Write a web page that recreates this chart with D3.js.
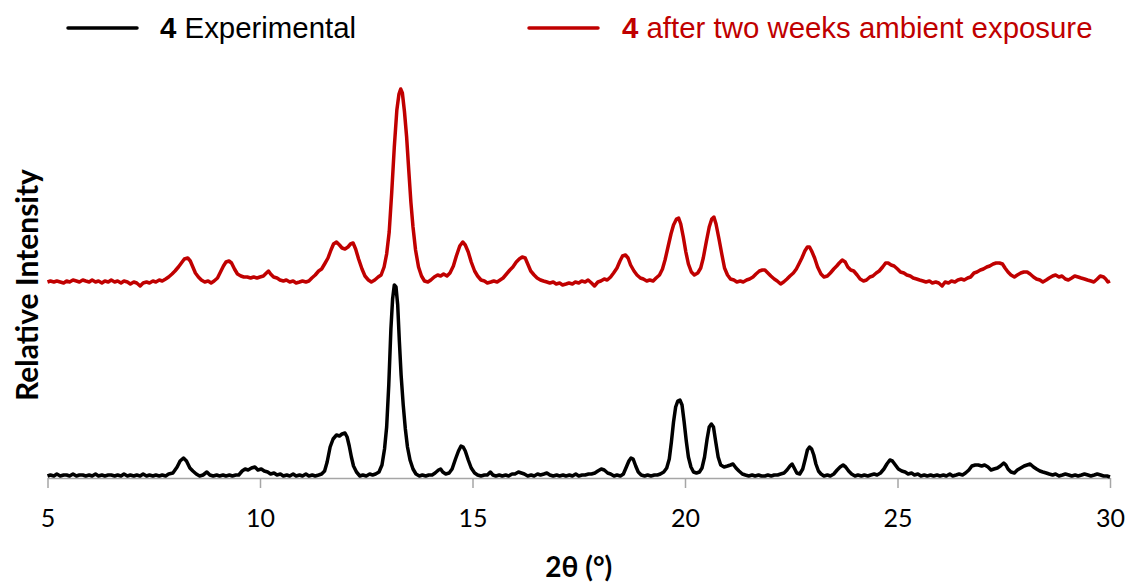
<!DOCTYPE html>
<html>
<head>
<meta charset="utf-8">
<script src="https://cdn.jsdelivr.net/npm/d3@7"></script>
<style>
  html, body { margin: 0; padding: 0; background: #fff; }
  svg { display: block; }
</style>
</head>
<body>
<svg id="chart" width="1127" height="583"></svg>
<script>
// ---- Data ----
const xTicks = [5, 10, 15, 20, 25, 30];
const seriesNames = ["Experimental", "after two weeks ambient exposure"];
const seriesLabelBold = ["4", "4"];
const agedOffset = 195; // vertical stacking offset of the aged pattern

// [2θ, relative intensity] - compound 4, experimental
const expPattern = [[5.00,1],[5.07,2],[5.15,1],[5.22,3],[5.3,1],[5.38,2],[5.45,2],[5.52,1],[5.6,3],[5.68,1],[5.75,2],[5.83,2],[5.9,1],[5.98,2],[6.05,1],[6.13,3],[6.2,1],[6.28,2],[6.35,1],[6.43,2],[6.5,2],[6.58,1],[6.65,2],[6.73,1],[6.8,3],[6.88,1],[6.95,2],[7.03,1],[7.1,2],[7.18,1],[7.25,3],[7.33,1],[7.4,2],[7.48,1],[7.55,2],[7.63,1],[7.7,2],[7.78,1],[7.85,3],[7.95,4],[8.05,10],[8.12,16],[8.2,19],[8.27,16],[8.35,9],[8.42,6],[8.5,3],[8.58,1],[8.66,2],[8.75,5],[8.82,2],[8.9,1],[8.98,2],[9.05,1],[9.13,2],[9.2,1],[9.28,2],[9.35,1],[9.43,2],[9.5,2],[9.58,6],[9.65,8],[9.72,7],[9.8,9],[9.88,10],[9.95,7],[10.03,8],[10.1,6],[10.18,5],[10.25,3],[10.33,4],[10.4,2],[10.48,3],[10.55,1],[10.63,2],[10.7,1],[10.78,3],[10.85,1],[10.93,2],[11.0,1],[11.08,3],[11.15,1],[11.23,2],[11.3,1],[11.38,2],[11.45,3],[11.52,6],[11.58,15],[11.65,30],[11.72,38],[11.8,42],[11.87,41],[11.93,43],[12.0,44],[12.05,40],[12.1,31],[12.15,20],[12.2,11],[12.27,5],[12.35,1],[12.42,2],[12.5,1],[12.58,3],[12.65,2],[12.72,3],[12.8,5],[12.87,12],[12.93,28],[12.98,50],[13.03,92],[13.08,148],[13.12,178],[13.16,192],[13.2,190],[13.24,172],[13.28,135],[13.32,102],[13.37,72],[13.42,48],[13.47,30],[13.53,17],[13.6,8],[13.67,3],[13.75,1],[13.82,2],[13.9,1],[13.97,2],[14.05,2],[14.12,4],[14.2,7],[14.25,8],[14.3,5],[14.37,3],[14.45,4],[14.52,8],[14.6,18],[14.67,26],[14.73,31],[14.78,30],[14.83,26],[14.9,17],[14.97,9],[15.05,4],[15.12,2],[15.2,1],[15.28,2],[15.35,2],[15.42,5],[15.48,2],[15.55,1],[15.63,2],[15.7,1],[15.78,2],[15.85,1],[15.93,3],[16.0,3],[16.08,5],[16.15,4],[16.22,3],[16.3,1],[16.38,2],[16.45,1],[16.53,3],[16.6,2],[16.68,3],[16.75,4],[16.82,2],[16.9,1],[16.98,2],[17.05,1],[17.13,2],[17.2,1],[17.28,2],[17.35,1],[17.43,3],[17.5,1],[17.58,2],[17.65,2],[17.73,3],[17.8,3],[17.88,4],[17.95,6],[18.03,8],[18.1,7],[18.18,4],[18.25,3],[18.33,1],[18.4,2],[18.48,1],[18.55,3],[18.62,10],[18.68,16],[18.73,19],[18.78,18],[18.84,11],[18.9,5],[18.97,2],[19.05,1],[19.12,2],[19.2,1],[19.28,2],[19.35,2],[19.42,3],[19.5,5],[19.57,9],[19.63,18],[19.68,35],[19.73,55],[19.78,70],[19.83,76],[19.88,77],[19.93,72],[19.98,55],[20.03,36],[20.08,20],[20.14,10],[20.2,5],[20.27,4],[20.34,5],[20.4,9],[20.46,20],[20.52,38],[20.57,50],[20.62,53],[20.67,50],[20.72,36],[20.78,20],[20.84,12],[20.92,10],[21.0,11],[21.07,12],[21.13,13],[21.2,9],[21.27,6],[21.35,3],[21.42,2],[21.5,1],[21.58,2],[21.65,1],[21.73,2],[21.8,1],[21.88,1],[21.95,2],[22.03,1],[22.1,2],[22.18,2],[22.25,3],[22.33,4],[22.4,7],[22.47,11],[22.52,13],[22.57,9],[22.63,4],[22.7,3],[22.77,8],[22.83,18],[22.88,27],[22.93,30],[22.98,28],[23.03,22],[23.08,13],[23.14,6],[23.2,3],[23.27,1],[23.35,2],[23.42,1],[23.5,3],[23.58,7],[23.65,10],[23.72,12],[23.78,10],[23.85,6],[23.92,3],[24.0,1],[24.07,2],[24.15,1],[24.22,2],[24.3,1],[24.37,2],[24.45,3],[24.52,2],[24.6,4],[24.68,8],[24.75,13],[24.82,17],[24.88,16],[24.95,12],[25.02,8],[25.1,6],[25.18,5],[25.25,3],[25.33,4],[25.4,2],[25.48,3],[25.55,1],[25.63,2],[25.7,1],[25.78,2],[25.85,1],[25.93,2],[26.0,1],[26.08,2],[26.15,1],[26.23,3],[26.3,1],[26.38,2],[26.45,3],[26.53,2],[26.6,4],[26.68,7],[26.75,11],[26.83,12],[26.9,12],[26.98,11],[27.05,12],[27.13,10],[27.2,7],[27.27,8],[27.35,9],[27.42,11],[27.5,14],[27.55,12],[27.6,8],[27.67,5],[27.75,4],[27.82,7],[27.9,9],[27.98,11],[28.05,12],[28.12,13],[28.2,10],[28.27,8],[28.35,6],[28.42,5],[28.5,4],[28.57,3],[28.65,2],[28.72,3],[28.8,1],[28.88,2],[28.95,3],[29.03,2],[29.1,1],[29.18,2],[29.25,1],[29.33,2],[29.4,3],[29.48,2],[29.55,1],[29.63,2],[29.7,3],[29.78,2],[29.85,1],[29.93,1],[30.0,0]];

// [2θ, relative intensity] - compound 4 after two weeks ambient exposure
const agedPattern = [[5.0,0],[5.07,1],[5.15,0],[5.22,1],[5.3,0],[5.38,-1],[5.45,1],[5.52,0],[5.6,2],[5.68,1],[5.75,0],[5.83,2],[5.9,1],[5.98,0],[6.05,2],[6.13,0],[6.2,1],[6.28,-1],[6.35,1],[6.43,0],[6.5,2],[6.58,0],[6.65,1],[6.73,-1],[6.8,1],[6.88,0],[6.95,-2],[7.03,0],[7.1,-1],[7.18,-4],[7.25,-1],[7.33,0],[7.4,-1],[7.48,1],[7.55,0],[7.63,2],[7.7,1],[7.78,3],[7.85,5],[7.93,8],[8.0,11],[8.08,15],[8.15,19],[8.22,23],[8.3,24],[8.36,21],[8.42,15],[8.48,9],[8.55,5],[8.62,2],[8.7,0],[8.78,1],[8.85,-1],[8.92,1],[9.0,4],[9.07,10],[9.14,16],[9.2,20],[9.27,21],[9.33,19],[9.4,13],[9.47,8],[9.55,6],[9.62,5],[9.7,5],[9.78,4],[9.85,5],[9.93,4],[10.0,5],[10.08,6],[10.15,9],[10.2,11],[10.25,8],[10.32,5],[10.4,4],[10.47,2],[10.55,1],[10.62,2],[10.7,0],[10.78,1],[10.85,-1],[10.93,0],[11.0,1],[11.08,0],[11.15,1],[11.22,4],[11.3,7],[11.38,11],[11.45,13],[11.52,18],[11.6,24],[11.67,32],[11.73,38],[11.8,40],[11.87,37],[11.93,34],[12.0,33],[12.07,35],[12.13,38],[12.19,39],[12.25,33],[12.32,23],[12.4,13],[12.47,6],[12.55,2],[12.62,0],[12.7,2],[12.78,5],[12.85,7],[12.92,15],[12.98,28],[13.04,50],[13.1,90],[13.16,135],[13.22,172],[13.27,188],[13.31,193],[13.35,189],[13.4,170],[13.45,145],[13.5,112],[13.55,80],[13.6,55],[13.66,32],[13.73,15],[13.8,6],[13.87,1],[13.95,0],[14.02,2],[14.1,5],[14.18,7],[14.25,6],[14.32,8],[14.4,6],[14.47,9],[14.55,16],[14.62,26],[14.7,36],[14.77,40],[14.83,37],[14.9,30],[14.97,20],[15.05,11],[15.12,6],[15.2,2],[15.28,1],[15.35,-1],[15.43,0],[15.5,1],[15.58,0],[15.65,2],[15.72,4],[15.8,8],[15.88,12],[15.95,15],[16.03,20],[16.1,23],[16.17,25],[16.24,24],[16.3,18],[16.37,11],[16.45,7],[16.52,4],[16.6,2],[16.67,1],[16.75,0],[16.82,-1],[16.9,0],[16.97,-2],[17.05,-1],[17.12,-3],[17.2,-2],[17.27,-1],[17.35,-2],[17.42,0],[17.5,-1],[17.57,1],[17.65,0],[17.72,2],[17.8,-1],[17.87,-4],[17.95,0],[18.02,1],[18.1,3],[18.17,2],[18.25,5],[18.32,9],[18.4,14],[18.47,21],[18.53,26],[18.6,27],[18.66,24],[18.72,17],[18.8,11],[18.87,7],[18.95,4],[19.02,3],[19.1,1],[19.17,2],[19.25,1],[19.32,4],[19.4,7],[19.47,13],[19.53,22],[19.6,35],[19.67,48],[19.73,57],[19.8,63],[19.85,64],[19.9,58],[19.96,45],[20.02,30],[20.08,18],[20.15,10],[20.22,7],[20.3,9],[20.37,14],[20.43,24],[20.5,40],[20.57,55],[20.63,63],[20.68,65],[20.73,58],[20.8,43],[20.87,27],[20.93,14],[21.0,7],[21.07,3],[21.15,2],[21.22,0],[21.3,1],[21.37,0],[21.45,2],[21.52,3],[21.6,5],[21.67,8],[21.75,11],[21.82,12],[21.88,12],[21.95,9],[22.02,6],[22.1,3],[22.17,1],[22.25,-2],[22.32,0],[22.4,3],[22.47,6],[22.55,9],[22.62,13],[22.68,18],[22.75,24],[22.82,31],[22.88,35],[22.93,35],[22.98,31],[23.05,24],[23.12,15],[23.2,8],[23.27,5],[23.35,6],[23.42,9],[23.5,13],[23.57,16],[23.63,19],[23.7,22],[23.77,20],[23.83,15],[23.9,12],[23.97,11],[24.05,7],[24.12,3],[24.2,1],[24.27,2],[24.35,5],[24.42,6],[24.5,9],[24.57,11],[24.65,15],[24.72,19],[24.78,19],[24.85,17],[24.92,16],[25.0,13],[25.07,10],[25.15,9],[25.22,7],[25.3,6],[25.37,4],[25.45,3],[25.52,2],[25.6,1],[25.67,0],[25.75,1],[25.82,-1],[25.9,0],[25.97,-1],[26.05,-4],[26.12,0],[26.2,-1],[26.27,1],[26.35,0],[26.42,2],[26.5,3],[26.57,2],[26.65,4],[26.72,5],[26.8,9],[26.87,10],[26.95,12],[27.02,13],[27.1,15],[27.17,16],[27.25,18],[27.32,19],[27.4,19],[27.47,18],[27.53,14],[27.6,10],[27.67,7],[27.75,5],[27.82,7],[27.9,9],[27.97,10],[28.05,10],[28.12,8],[28.2,5],[28.27,3],[28.35,2],[28.42,0],[28.5,2],[28.57,4],[28.65,6],[28.72,7],[28.8,5],[28.87,6],[28.95,3],[29.02,2],[29.1,4],[29.17,6],[29.25,5],[29.32,4],[29.4,3],[29.47,2],[29.55,1],[29.62,0],[29.7,3],[29.77,6],[29.85,5],[29.9,3],[29.95,0],[30.0,1]];

const colors = ["#000000", "#c00000"];

// ---- Chart ----
const svg = d3.select("#chart");
const x = d3.scaleLinear().domain([5, 30]).range([47.5, 1110]);
const y = d3.scaleLinear().domain([0, 400]).range([477, 77]);

// x axis
const axisG = svg.append("g").attr("transform", "translate(0,478)")
  .call(d3.axisBottom(x).tickValues(xTicks).tickSize(10).tickSizeOuter(0).tickPadding(21));
axisG.select(".domain").attr("stroke", "#a6a6a6").attr("stroke-width", 1.5);
axisG.selectAll(".tick line").attr("stroke", "#a6a6a6").attr("stroke-width", 1.5);
axisG.selectAll(".tick text")
  .attr("fill", "#000")
  .style("font-family", "Lato, 'Liberation Sans Narrow', sans-serif")
  .style("font-size", "25px");

// axis titles
svg.append("text")
  .attr("x", x(17.5)).attr("y", 577)
  .attr("text-anchor", "middle")
  .style("font-family", "Lato, 'Liberation Sans', sans-serif")
  .style("font-weight", "bold").style("font-size", "28px")
  .text("2θ (°)");

svg.append("text")
  .attr("transform", "translate(38,285) rotate(-90)")
  .attr("text-anchor", "middle")
  .style("font-family", "Lato, 'Liberation Sans', sans-serif")
  .style("font-weight", "bold").style("font-size", "30px")
  .text("Relative Intensity");

// lines
const line = d3.line().x(d => x(d[0])).y(d => y(d[1])).curve(d3.curveLinear);
svg.append("path").datum(expPattern)
  .attr("d", line).attr("fill", "none").attr("stroke", colors[0])
  .attr("stroke-width", 3.5).attr("stroke-linejoin", "round");
svg.append("path").datum(agedPattern.map(d => [d[0], d[1] + agedOffset]))
  .attr("d", line).attr("fill", "none").attr("stroke", colors[1])
  .attr("stroke-width", 3.5).attr("stroke-linejoin", "round");

// legend
const legendPos = [{lx: 68, tx: 160}, {lx: 529, tx: 622}];
legendPos.forEach((p, i) => {
  const g = svg.append("g");
  g.append("line").attr("x1", p.lx).attr("x2", p.lx + 69).attr("y1", 28).attr("y2", 28)
    .attr("stroke", colors[i]).attr("stroke-width", 3.5).attr("stroke-linecap", "round");
  const t = g.append("text").attr("x", p.tx).attr("y", 38)
    .attr("fill", colors[i])
    .style("font-family", "'Liberation Sans', Arial, sans-serif")
    .style("font-size", "29.4px");
  t.append("tspan").style("font-weight", "bold").text(seriesLabelBold[i]);
  t.append("tspan").text(" " + seriesNames[i]);
});
</script>
</body>
</html>
